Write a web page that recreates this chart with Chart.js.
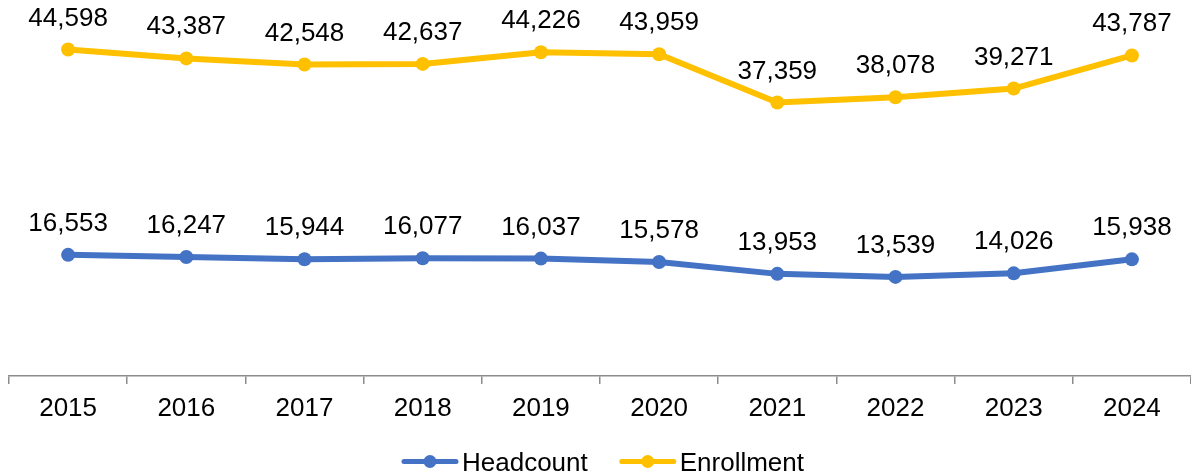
<!DOCTYPE html>
<html>
<head>
<meta charset="utf-8">
<script src="https://cdn.jsdelivr.net/npm/chart.js@4.4.1/dist/chart.umd.min.js"></script>
<style>
  html, body { margin: 0; padding: 0; background: #ffffff; }
  #wrap { width: 1191px; height: 475px; position: relative; }
</style>
</head>
<body>
<div id="wrap"><canvas id="chart"></canvas></div>
<script>
// Yearly figures
const years = ['2015', '2016', '2017', '2018', '2019', '2020', '2021', '2022', '2023', '2024'];
const headcount = [16553, 16247, 15944, 16077, 16037, 15578, 13953, 13539, 14026, 15938];
const enrollment = [44598, 43387, 42548, 42637, 44226, 43959, 37359, 38078, 39271, 43787];

const FONT = '"Liberation Sans", Arial, sans-serif';
const BLUE = '#4472C4';
const GOLD = '#FFC000';
const AXIS_GREY = '#8c8c8c';

const fmt = v => v.toLocaleString('en-US');

// Value labels above every point
const valueLabels = {
  id: 'valueLabels',
  afterDatasetsDraw(chart) {
    const ctx = chart.ctx;
    ctx.save();
    ctx.font = '26px ' + FONT;
    ctx.fillStyle = '#000000';
    ctx.textAlign = 'center';
    ctx.textBaseline = 'alphabetic';
    chart.data.datasets.forEach((ds, i) => {
      const meta = chart.getDatasetMeta(i);
      meta.data.forEach((pt, j) => {
        ctx.fillText(fmt(ds.data[j]), pt.x, pt.y - 24);
      });
    });
    ctx.restore();
  }
};

// Legend row under the axis: line-with-marker swatch followed by the series name
const lineLegend = {
  id: 'lineLegend',
  afterDraw(chart) {
    const ctx = chart.ctx;
    ctx.save();
    ctx.font = '26px ' + FONT;
    const swatch = 56, gapText = 4, gapItem = 32;
    const items = chart.data.datasets.map(ds => ({
      text: ds.label, color: ds.borderColor, w: ctx.measureText(ds.label).width
    }));
    const total = items.reduce((s, it) => s + swatch + gapText + it.w, 0) + gapItem * (items.length - 1);
    let x = 603 - total / 2;
    const cy = 461.5;
    items.forEach(it => {
      ctx.strokeStyle = it.color;
      ctx.lineWidth = 5;
      ctx.lineCap = 'round';
      ctx.beginPath();
      ctx.moveTo(x + 2, cy);
      ctx.lineTo(x + swatch - 2, cy);
      ctx.stroke();
      ctx.fillStyle = it.color;
      ctx.beginPath();
      ctx.arc(x + swatch / 2, cy, 6.5, 0, Math.PI * 2);
      ctx.fill();
      ctx.fillStyle = '#000000';
      ctx.textAlign = 'left';
      ctx.textBaseline = 'alphabetic';
      ctx.fillText(it.text, x + swatch + gapText, 470.5);
      x += swatch + gapText + it.w + gapItem;
    });
    ctx.restore();
  }
};

new Chart(document.getElementById('chart'), {
  type: 'line',
  data: {
    labels: years,
    datasets: [
      {
        label: 'Headcount',
        data: headcount,
        borderColor: BLUE,
        backgroundColor: BLUE,
        borderWidth: 6,
        pointRadius: 7,
        pointBorderWidth: 0,
        pointBackgroundColor: BLUE,
        tension: 0
      },
      {
        label: 'Enrollment',
        data: enrollment,
        borderColor: GOLD,
        backgroundColor: GOLD,
        borderWidth: 6,
        pointRadius: 7,
        pointBorderWidth: 0,
        pointBackgroundColor: GOLD,
        tension: 0
      }
    ]
  },
  options: {
    responsive: true,
    maintainAspectRatio: false,
    animation: false,
    devicePixelRatio: 1,
    layout: { autoPadding: false, padding: { left: 9, right: 0, top: 10, bottom: 0 } },
    plugins: {
      legend: { display: false },
      tooltip: { enabled: false }
    },
    scales: {
      x: {
        offset: true,
        grid: {
          display: true,
          offset: true,
          drawOnChartArea: false,
          drawTicks: true,
          tickLength: 8,
          color: AXIS_GREY,
          lineWidth: 1.5
        },
        border: { display: true, color: AXIS_GREY, width: 1.5 },
        ticks: {
          color: '#000000',
          font: { family: FONT, size: 26 },
          padding: 9,
          maxRotation: 0,
          autoSkip: false
        },
        afterFit(scale) { scale.height = 99; }
      },
      y: {
        display: false,
        min: 0,
        max: 50000
      }
    }
  },
  plugins: [valueLabels, lineLegend]
});
</script>
</body>
</html>
